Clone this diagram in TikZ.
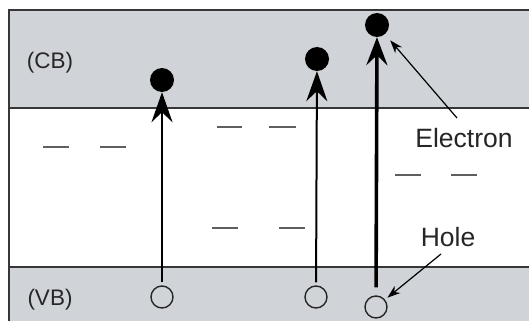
\documentclass[tikz,border=0pt]{standalone}
\usepackage{fontspec}
\setmainfont{Liberation Sans}
\usetikzlibrary{arrows.meta}
\definecolor{bandgray}{RGB}{208,211,216}
\definecolor{edge}{RGB}{55,55,55}
\tikzset{
  band/.style={fill=bandgray, draw=none},
  edgeline/.style={draw=edge, line width=1.8pt},
  level/.style={draw=edge!80, line width=1.4pt},
  electron/.style={circle, fill=black, inner sep=0pt, minimum size=24pt},
  hole/.style={circle, draw=black!85, line width=1.4pt, fill=none, inner sep=0pt, minimum size=22pt},
  excite/.style={line width=2pt, shorten <=3pt, -{Stealth[length=30pt, width=21pt, inset=10pt]}},
  bigexcite/.style={line width=3.6pt, shorten <=8pt, -{Stealth[length=28pt, width=21pt, inset=10pt]}},
  pointer/.style={line width=1.2pt, -{Stealth[length=13pt, width=9pt, inset=4pt]}},
  biglabel/.style={font=\fontsize{26.5}{30}\selectfont, text=black!85, inner sep=0pt},
  bandlabel/.style={font=\fontsize{22.5}{26}\selectfont, text=black!85, inner sep=0pt}
}
\begin{document}
\begin{tikzpicture}[x=1pt, y=-1pt]
\useasboundingbox (0,0) rectangle (529,321);
\fill[white] (0,0) rectangle (529,321);
% bands
\fill[band] (9,10) rectangle (529,108);
\fill[band] (9,267) rectangle (529,321);
\draw[edgeline] (529,10) -- (9,10) -- (9,321);
\draw[edgeline] (9,108) -- (529,108);
\draw[edgeline] (9,267) -- (529,267);
% trap levels
\draw[level] (43,147) -- (69,147);
\draw[level] (100,147) -- (126,147);
\draw[level] (217,127) -- (242,127);
\draw[level] (269,127) -- (296,127);
\draw[level] (212,228) -- (238,228);
\draw[level] (279,228) -- (305,228);
\draw[level] (395,175) -- (421,175);
\draw[level] (451,175) -- (477,175);
% labels
\node[bandlabel] (cb) at (50,63) {(CB)};
\node[bandlabel] (vb) at (50,300) {(VB)};
\node[biglabel] (elab) at (464,138) {Electron};
\node[biglabel] (hlab) at (448,237) {Hole};
% electrons and holes
\node[electron] (e1) at (162,80) {};
\node[electron] (e2) at (317,59) {};
\node[electron] (e3) at (377,25) {};
\node[hole] (h1) at (162,297) {};
\node[hole] (h2) at (316,297) {};
\node[hole] (h3) at (376,307) {};
% excitations
\draw[excite] (h1) -- (e1);
\draw[excite] (h2) -- (e2);
\draw[bigexcite] (h3) -- (e3);
% pointers
\coordinate (ep) at (457,118);
\coordinate (hp) at (441,254);
\draw[pointer, shorten >=8pt] (ep) -- (e3);
\draw[pointer, shorten >=3pt] (hp) -- (h3);
\end{tikzpicture}
\end{document}
